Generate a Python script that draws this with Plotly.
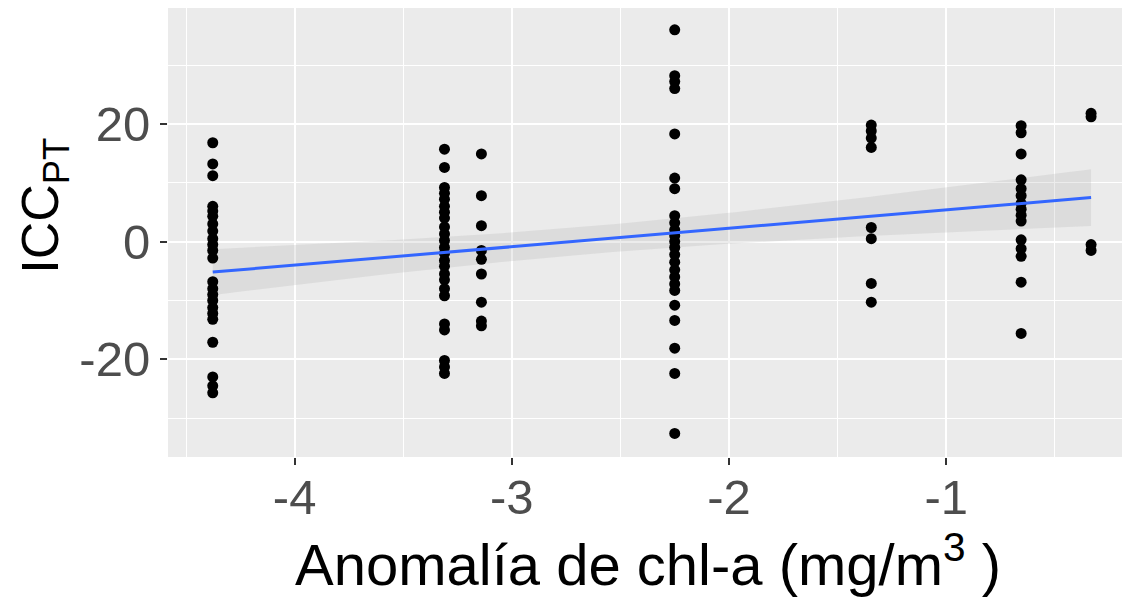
import numpy as np
import plotly.graph_objects as go

# x positions of the sampled anomalies and ICC_PT values per group
x_groups = [-4.377, -3.31, -3.14, -2.25, -1.345, -0.655, -0.333]
y_groups = [
    [16.8, 13.2, 11.2, 6.0, 5.2, 4.3, 3.0, 1.8, 0.5, -0.5, -1.5, -2.8, -6.8, -8.0, -9.0,
     -10.0, -11.2, -12.2, -13.2, -17.1, -23.0, -24.5, -25.7],
    [15.7, 12.6, 9.2, 8.2, 7.2, 6.0, 5.0, 4.0, 2.5, 1.3, 0.2, -1.0, -2.0, -3.2, -4.2, -5.5,
     -6.5, -8.0, -9.2, -14.0, -15.0, -20.2, -21.3, -22.4],
    [14.9, 7.8, 2.7, -1.5, -3.0, -5.5, -10.3, -13.5, -14.3],
    [36.0, 28.2, 27.2, 26.0, 18.3, 10.8, 9.0, 4.4, 3.2, 2.0, 1.0, 0.0, -1.0, -2.2, -3.5,
     -4.8, -6.0, -7.2, -8.3, -10.8, -13.4, -18.1, -22.4, -32.6],
    [19.8, 18.8, 17.6, 16.0, 2.4, 0.5, -7.1, -10.3],
    [19.7, 18.5, 14.9, 10.5, 9.0, 7.8, 6.5, 5.5, 4.5, 3.5, 0.3, -1.2, -2.5, -6.9, -15.6],
    [21.8, 21.2, -0.5, -1.5],
]
x_ticks = [-4, -3, -2, -1]
y_ticks = [-20, 0, 20]

xs = np.concatenate([[xg] * len(yg) for xg, yg in zip(x_groups, y_groups)])
ys = np.concatenate([np.array(yg, float) for yg in y_groups])

# linear fit with 95% confidence band (geom_smooth(method="lm"))
n = len(xs)
b1, b0 = np.polyfit(xs, ys, 1)
resid = ys - (b0 + b1 * xs)
s = np.sqrt(np.sum(resid ** 2) / (n - 2))
xbar = xs.mean()
sxx = np.sum((xs - xbar) ** 2)
t = 1.98
xl = np.linspace(xs.min(), xs.max(), 80)
yl = b0 + b1 * xl
se = s * np.sqrt(1.0 / n + (xl - xbar) ** 2 / sxx)
lo, hi = yl - t * se, yl + t * se

fig = go.Figure()
fig.add_trace(go.Scatter(
    x=np.concatenate([xl, xl[::-1]]), y=np.concatenate([hi, lo[::-1]]),
    fill="toself", fillcolor="rgba(170,170,170,0.22)", line=dict(width=0),
    mode="lines", hoverinfo="skip", showlegend=False))
fig.add_trace(go.Scatter(x=xs, y=ys, mode="markers",
                         marker=dict(color="black", size=11), showlegend=False))
fig.add_trace(go.Scatter(x=xl, y=yl, mode="lines",
                         line=dict(color="#3366FF", width=3), showlegend=False))

axis_common = dict(
    showgrid=True, gridcolor="white", gridwidth=1.6, zeroline=False,
    ticks="outside", ticklen=7, tickwidth=1.5, tickcolor="#333333",
    tickfont=dict(family="Liberation Sans, Arial", size=49, color="#4D4D4D"),
    showline=False, automargin=False,
)
fig.update_layout(
    width=1130, height=608,
    margin=dict(l=160, r=10, t=0, b=159),
    paper_bgcolor="white", plot_bgcolor="#EBEBEB",
    xaxis=dict(range=[-4.583, -0.163], tickvals=x_ticks, ticktext=[str(v) for v in x_ticks],
               minor=dict(dtick=0.5, tick0=-4.5, showgrid=True, gridcolor="white", gridwidth=0.8),
               ticklabelstandoff=-10,
               title=dict(text="Anomalía de chl-a (mg/m<sup>3</sup> )", standoff=10,
                          font=dict(family="Liberation Sans, Arial", size=58, color="black")),
               **axis_common),
    yaxis=dict(range=[-36.6, 39.7], tickvals=y_ticks, ticktext=[str(v) for v in y_ticks],
               minor=dict(dtick=10, tick0=-30, showgrid=True, gridcolor="white", gridwidth=0.8),
               **axis_common),
    annotations=[dict(text="ICC<sub>PT</sub>", textangle=-90, showarrow=False,
                      xref="paper", yref="paper", x=-0.13, y=0.56,
                      xanchor="center", yanchor="middle", borderpad=0,
                      font=dict(family="Liberation Sans, Arial", size=52, color="black"))],
)
fig.write_html("out.html")
